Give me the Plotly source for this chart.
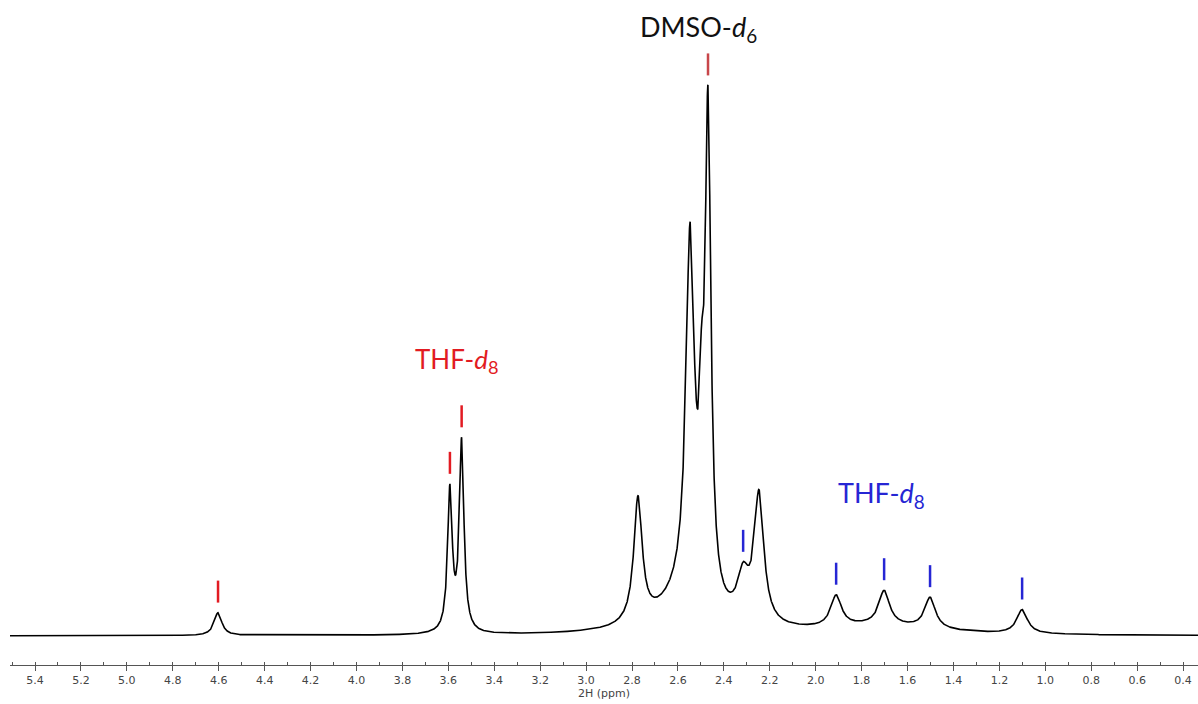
import numpy as np
import plotly.graph_objects as go

# Peak table of the 1H spectrum: chemical shift (ppm), amplitude (a.u.), half width (ppm)
peak_ppm = [4.603, 3.593, 3.542, 2.774, 2.580, 2.547, 2.497, 2.469, 2.316, 2.247,
            1.720, 1.911, 1.702, 1.502, 1.101]
peak_amp = [23, 141, 190, 124, 30, 358, 120, 482, 42, 128,
            9, 31, 34, 31, 24]
peak_hw = [0.020, 0.012, 0.012, 0.022, 0.140, 0.022, 0.012, 0.015, 0.030, 0.025,
           0.300, 0.028, 0.028, 0.028, 0.028]

# Assigned signals
thf_red_ppm = [4.603, 3.593, 3.542]
dmso_ppm = [2.469]
thf_blue_ppm = [2.316, 1.911, 1.702, 1.502, 1.101]

# Lorentzian line shapes summed on a dense shift grid
ppm = np.linspace(0.30, 5.55, 12000)
spec = np.zeros_like(ppm)
for c, a, w in zip(peak_ppm, peak_amp, peak_hw):
    spec += a * w**2 / ((ppm - c) ** 2 + w**2)

fig = go.Figure()
fig.add_trace(go.Scatter(x=ppm, y=spec, mode="lines",
                         line=dict(color="#000000", width=1.6),
                         hoverinfo="skip", showlegend=False))

# short vertical markers above each assigned signal
GAP, LEN = 10, 22
def marker_trace(xs, color):
    px, py = [], []
    for x0 in xs:
        y0 = float(np.interp(x0, ppm, spec)) + GAP
        px += [x0, x0, None]
        py += [y0, y0 + LEN, None]
    return go.Scatter(x=px, y=py, mode="lines", line=dict(color=color, width=2.5),
                      hoverinfo="skip", showlegend=False)

RED = "#e21b22"
BLUE = "#2626d4"
fig.add_trace(marker_trace(thf_red_ppm, RED))
fig.add_trace(marker_trace(dmso_ppm, "#c8464a"))
fig.add_trace(marker_trace(thf_blue_ppm, BLUE))

fig.add_annotation(x=2.512, y=608, xref="x", yref="y", showarrow=False,
                   text="DMSO-<i>d</i><sub>6</sub>",
                   font=dict(family="Lato", size=27, color="#111111"))
fig.add_annotation(x=3.562, y=276, xref="x", yref="y", showarrow=False,
                   text="THF-<i>d</i><sub>8</sub>",
                   font=dict(family="Lato", size=26, color=RED))
fig.add_annotation(x=1.715, y=142, xref="x", yref="y", showarrow=False,
                   text="THF-<i>d</i><sub>8</sub>",
                   font=dict(family="Lato", size=27, color=BLUE))

fig.update_layout(
    width=1198, height=704,
    margin=dict(l=10, r=0, t=0, b=39),
    paper_bgcolor="white", plot_bgcolor="white",
    xaxis=dict(range=[5.509, 0.335], showgrid=False, zeroline=False,
               showline=True, linecolor="#555555", linewidth=1,
               ticks="outside", ticklen=5, tickcolor="#555555",
               tick0=0, dtick=0.2, tickformat=".1f",
               tickfont=dict(family="DejaVu Sans", size=11, color="#444444"),
               minor=dict(ticks="inside", ticklen=3, dtick=0.1, tickcolor="#555555"),
               title=dict(text="2H (ppm)", standoff=3,
                          font=dict(family="DejaVu Sans", size=11, color="#444444"))),
    yaxis=dict(range=[-29, 636], visible=False),
)

fig.write_html("out.html")
